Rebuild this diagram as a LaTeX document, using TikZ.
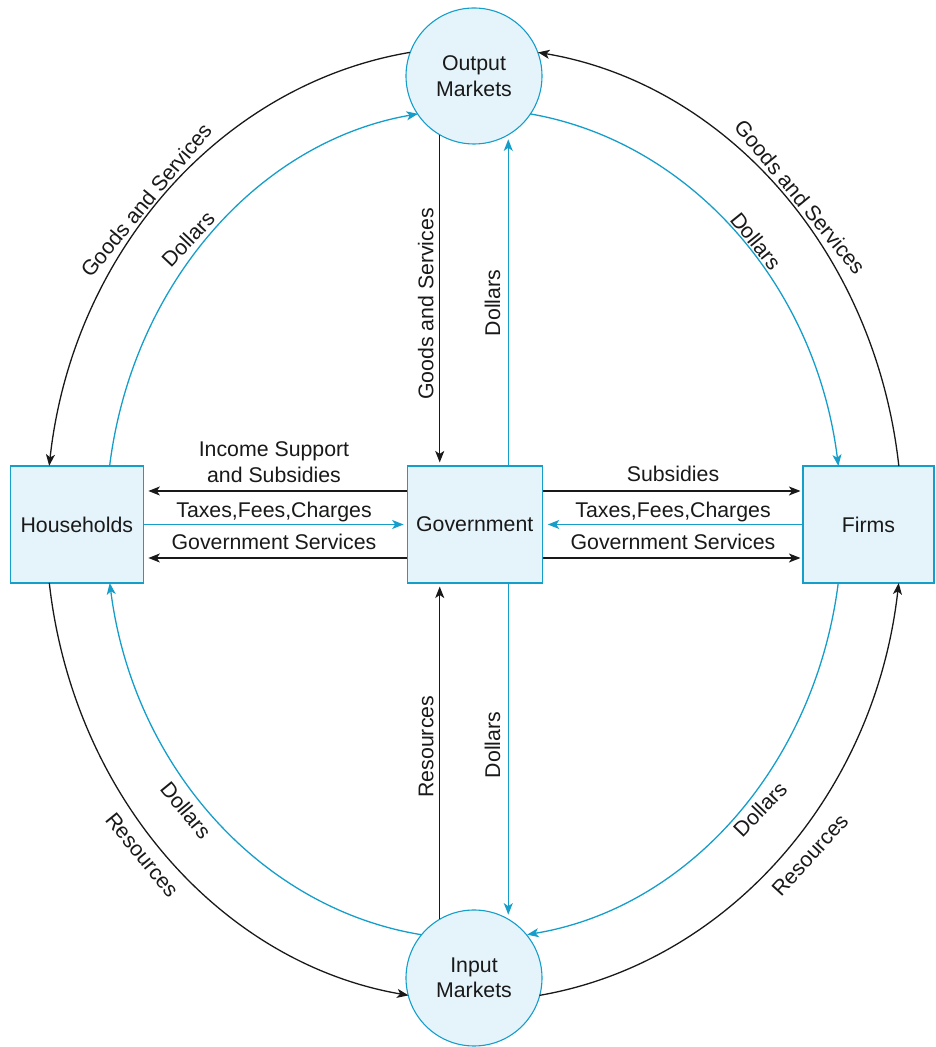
\documentclass[tikz,border=0pt]{standalone}
\usepackage{fontspec}
\setmainfont{Liberation Sans}
\usetikzlibrary{arrows.meta,calc}
\definecolor{cblue}{RGB}{22,158,202}
\definecolor{cfill}{RGB}{228,244,250}
\definecolor{ink}{RGB}{25,25,25}
\begin{document}
\begin{tikzpicture}[x=1pt,y=1pt,
  every node/.style={font=\fontsize{21.3pt}{25.5pt}\selectfont, text=ink},
  box/.style={draw=cblue, fill=cfill, line width=1.1pt, minimum width=133pt, minimum height=117pt, inner sep=0pt},
  circ/.style={circle, draw=cblue, fill=cfill, line width=1.1pt, minimum size=136pt, inner sep=0pt, align=center},
  >={Stealth[length=11.5pt,width=9pt,inset=3pt]},
  blk/.style={draw=ink, line width=1.3pt, ->},
  blu/.style={draw=cblue, line width=1.3pt, ->},
  lab/.style={anchor=base, inner sep=0pt},
  alab/.style={inner sep=0pt}]
\useasboundingbox (0,0) rectangle (935,1047);

% nodes
\node[circ] (out) at (474,971) {Output\\Markets};
\node[circ] (inp) at (474,69) {Input\\Markets};
\node[box] (hh) at (76.8,522.5) {Households};
\node[box, minimum width=135pt] (gov) at (474.7,522.5) {Government};
\node[box, minimum width=131pt] (firm) at (868.5,522.5) {Firms};
\coordinate (c) at (474,523);

% outer (black) arcs
\draw[blk] ($(c)+(98.6:428pt and 477pt)$) arc[start angle=98.6, end angle=173.0, x radius=428pt, y radius=477pt];
\draw[blk] ($(c)+(7.0:428pt and 477pt)$) arc[start angle=7.0, end angle=81.4, x radius=428pt, y radius=477pt];
\draw[blk] ($(c)+(187.1:428pt and 477pt)$) arc[start angle=187.1, end angle=261.2, x radius=428pt, y radius=477pt];
\draw[blk] ($(c)+(278.8:428pt and 477pt)$) arc[start angle=278.8, end angle=352.9, x radius=428pt, y radius=477pt];

% inner (blue) arcs
\draw[blu] ($(c)+(171.97:368pt and 415pt)$) arc[start angle=171.97, end angle=98.75, x radius=368pt, y radius=415pt];
\draw[blu] ($(c)+(81.25:368pt and 415pt)$) arc[start angle=81.25, end angle=8.03, x radius=368pt, y radius=415pt];
\draw[blu] ($(c)+(-8.17:368pt and 415pt)$) arc[start angle=-8.17, end angle=-81.7, x radius=368pt, y radius=415pt];
\draw[blu] ($(c)+(-98.3:368pt and 415pt)$) arc[start angle=-98.3, end angle=-171.83, x radius=368pt, y radius=415pt];

% horizontal arrows
\draw[blk, shorten >=4.5pt] ([yshift=33.5pt]gov.west) -- ([yshift=33.5pt]hh.east);
\draw[blu, shorten >=3pt] (hh.east) -- (gov.west);
\draw[blk, shorten >=4.5pt] ([yshift=-33.5pt]gov.west) -- ([yshift=-33.5pt]hh.east);
\draw[blk, shorten >=2pt] ([yshift=33.5pt]gov.east) -- ([yshift=33.5pt]firm.west);
\draw[blu, shorten >=5pt] (firm.west) -- (gov.east);
\draw[blk, shorten >=2pt] ([yshift=-33.5pt]gov.east) -- ([yshift=-33.5pt]firm.west);

% vertical arrows
\draw[blk, shorten >=3pt] (out.240) -- (out.240 |- gov.north);
\draw[blu, shorten >=4pt] (out.300 |- gov.north) -- (out.300);
\draw[blk, shorten >=3pt] (inp.120) -- (inp.120 |- gov.south);
\draw[blu, shorten >=4pt] (inp.60 |- gov.south) -- (inp.60);

% horizontal labels
\node[alab, anchor=north, align=center] (l1) at (274,605.3) {Income Support\\and Subsidies};
\node[lab] (l2) at (274,529.3) {Taxes,Fees,Charges};
\node[lab] (l3) at (274,497) {Government Services};
\node[lab] (r1) at (673,565.3) {Subsidies};
\node[lab] (r2) at (673,529.3) {Taxes,Fees,Charges};
\node[lab] (r3) at (673,497) {Government Services};

% vertical labels
\node[lab, rotate=90] (v1) at (433.3,743) {Goods and Services};
\node[lab, rotate=90] (v2) at (500,744) {Dollars};
\node[lab, rotate=90] (v3) at (433.3,300.3) {Resources};
\node[lab, rotate=90] (v4) at (500,302) {Dollars};

% arc labels
\node[alab, rotate=50.5] (a1) at (146,847) {Goods and Services};
\node[alab, rotate=46.7] (a2) at (188,808) {Dollars};
\node[alab, rotate=-50.5] (a3) at (800,850) {Goods and Services};
\node[alab, rotate=-51] (a4) at (756,806) {Dollars};
\node[alab, rotate=-50.7] (a5) at (186,237) {Dollars};
\node[alab, rotate=-50.9] (a6) at (142,192) {Resources};
\node[alab, rotate=46] (a7) at (760,238) {Dollars};
\node[alab, rotate=47.6] (a8) at (810,192) {Resources};
\end{tikzpicture}
\end{document}
